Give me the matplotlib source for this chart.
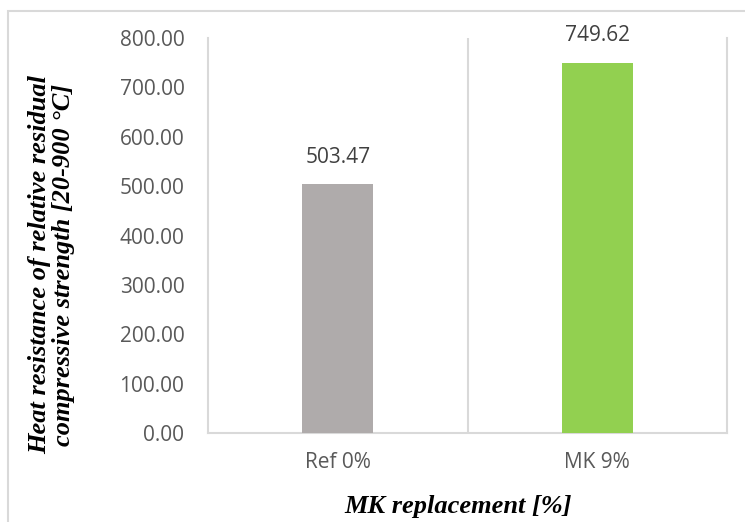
import matplotlib.pyplot as plt
from matplotlib.patches import Rectangle

categories = ["Ref 0%", "MK 9%"]
values = [503.47, 749.62]
bar_colors = ["#AFABAB", "#92D050"]
y_ticks = [0, 100, 200, 300, 400, 500, 600, 700, 800]

grid_col = "#D9D9D9"

fig = plt.figure(figsize=(7.45, 5.22), dpi=100)
ax = fig.add_axes([208 / 745, 1 - 433 / 522, 519 / 745, 395 / 522])

x = range(len(categories))
bars = ax.bar(x, values, width=0.274, color=bar_colors, zorder=3)

# value labels above the bars
for xi, v in zip(x, values):
    ax.annotate(f"{v:.2f}", (xi, v), xytext=(0, 12), textcoords="offset points",
                ha="center", va="bottom", fontsize=15, family="Open Sans",
                color="#404040")

ax.set_xlim(-0.5, 1.5)
ax.set_ylim(0, 800)
ax.set_yticks(y_ticks)
ax.set_yticklabels([f"{t:.2f}" for t in y_ticks], family="Open Sans",
                   fontsize=15, color="#595959")
ax.set_xticks(list(x))
ax.set_xticklabels(categories, family="Open Sans", fontsize=15, color="#595959")
ax.tick_params(axis="both", length=0)
ax.tick_params(axis="y", pad=17)
ax.tick_params(axis="x", pad=14)

# category separators
ax.axvline(0.5, color=grid_col, lw=1.5, zorder=1)
for side in ["left", "right", "bottom"]:
    ax.spines[side].set_color(grid_col)
    ax.spines[side].set_linewidth(1.5)
ax.spines["top"].set_visible(False)

fig.text(52 / 745, 1 - 265 / 522,
         "Heat resistance of relative residual\ncompressive strength [20-900 °C]",
         rotation=90, ha="center", va="center", family="Liberation Serif",
         weight="bold", style="italic", fontsize=19, linespacing=1.05)
fig.text(458 / 745, 1 - 507 / 522, "MK replacement [%]", ha="center", va="center",
         family="Liberation Serif", weight="bold", style="italic", fontsize=19)

# chart area border
fig.patches.append(Rectangle((8 / 745, -0.1), 1.2, 1.1 - 11 / 522,
                             transform=fig.transFigure, fill=False,
                             edgecolor=grid_col, lw=1.5))

fig.savefig("out.png", dpi=100)
